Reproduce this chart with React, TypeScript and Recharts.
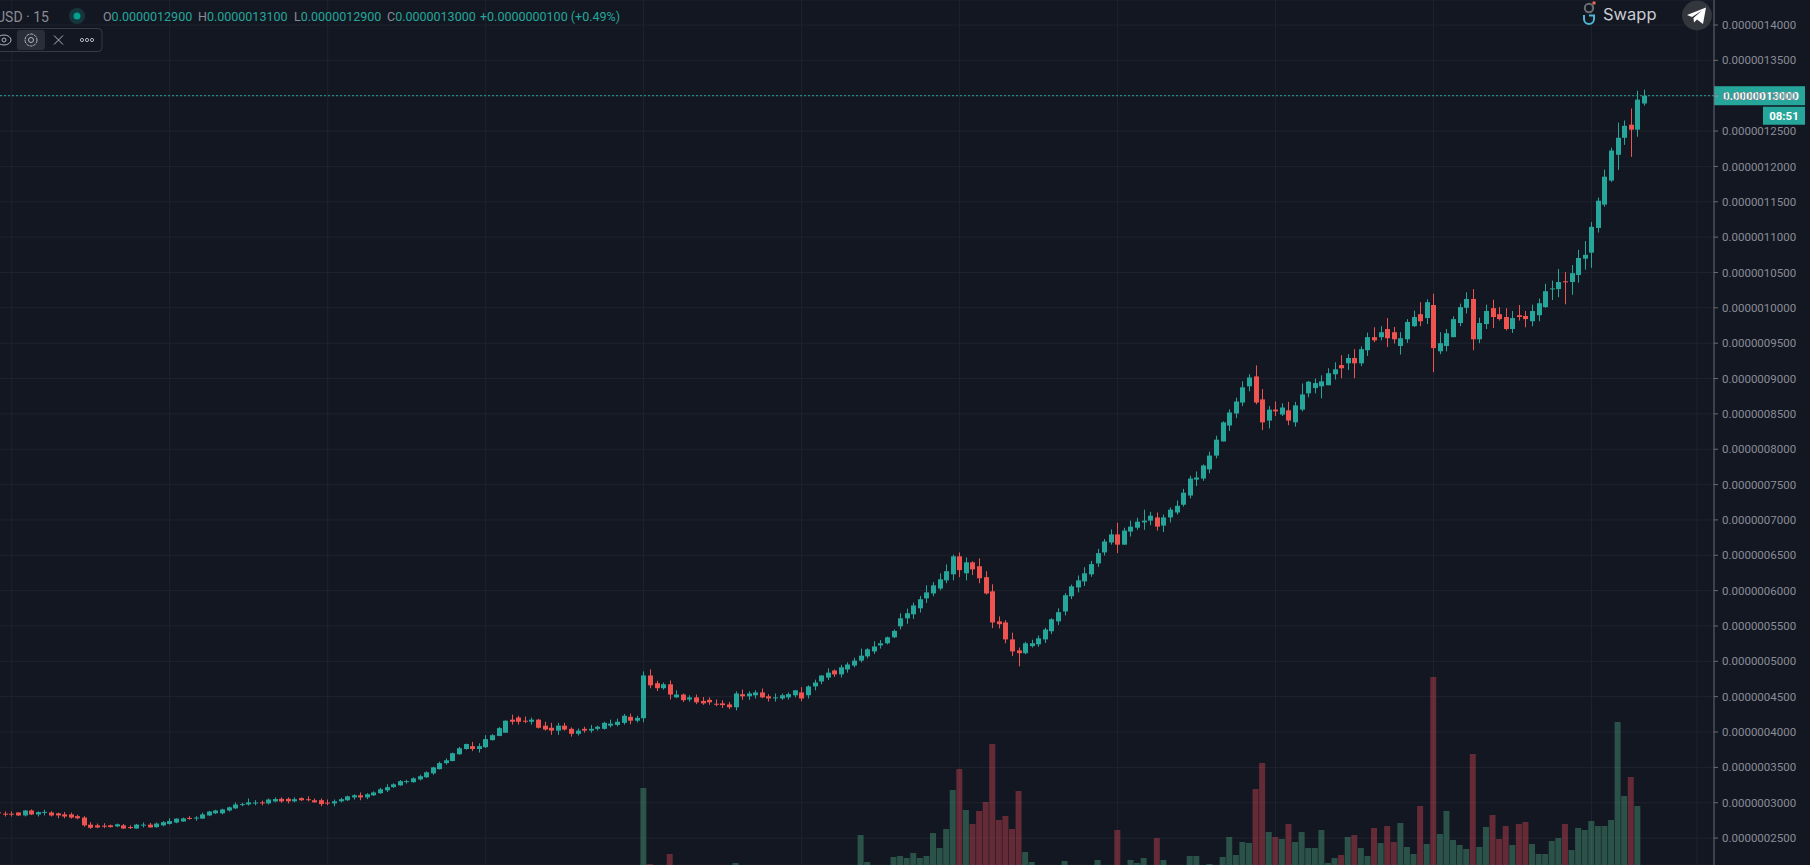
import React from "react";
import { ComposedChart, Bar, XAxis, YAxis, CartesianGrid, ReferenceLine } from "recharts";

// Prices are in units of 0.0000000001. Each row is [open, high, low, close].
type Ohlc = [number, number, number, number];

const sessionA: Ohlc[] = [ // candles -2 to 23
  [2865,2875,2840,2850],[2845,2877,2805,2840],[2845,2877,2805,2840],[2862,2865,2810,2820],[2820,2895,2806,2890],[2890,2905,2825,2834],
  [2834,2877,2805,2867],[2865,2900,2820,2870],[2862,2880,2805,2820],[2850,2860,2780,2820],[2835,2870,2780,2805],[2835,2860,2775,2790],
  [2810,2830,2765,2780],[2790,2810,2660,2680],[2690,2725,2630,2645],[2680,2705,2640,2650],[2675,2710,2640,2665],[2680,2690,2650,2655],
  [2665,2705,2655,2695],[2680,2700,2630,2635],[2655,2680,2630,2650],[2635,2700,2632,2690],[2685,2720,2650,2690],[2690,2715,2650,2650],
  [2655,2720,2645,2705],[2680,2740,2665,2725],
];
const sessionB: Ohlc[] = [ // candles 24 to 47
  [2700,2780,2690,2740],[2720,2780,2710,2775],[2735,2790,2730,2778],[2785,2810,2760,2780],[2780,2810,2745,2790],[2775,2860,2770,2835],
  [2820,2885,2810,2875],[2850,2900,2840,2890],[2850,2915,2835,2905],[2890,2945,2875,2935],[2920,3005,2910,2975],[2975,3000,2950,2980],
  [2975,3060,2960,3005],[2998,3035,2965,3003],[3005,3030,2965,2995],[2990,3060,2975,3045],[3018,3075,3005,3052],[3055,3075,3000,3018],
  [3055,3075,2990,3020],[3020,3075,3005,3050],[3065,3075,3025,3035],[3050,3090,3020,3045],[3035,3060,3000,3005],[3035,3060,2950,2980],
];
const sessionC: Ohlc[] = [ // candles 48 to 71
  [3002,3045,2965,2998],[2990,3045,2950,3020],[3020,3070,3005,3050],[3035,3100,3025,3090],[3075,3120,3045,3105],[3105,3145,3035,3075],
  [3075,3135,3050,3120],[3105,3160,3095,3145],[3135,3210,3125,3190],[3175,3260,3150,3220],[3220,3275,3210,3260],[3245,3320,3240,3305],
  [3300,3325,3270,3305],[3290,3360,3285,3345],[3330,3395,3315,3375],[3360,3445,3350,3430],[3415,3510,3395,3500],[3475,3580,3470,3560],
  [3560,3625,3540,3600],[3590,3710,3585,3700],[3685,3790,3680,3770],[3760,3835,3750,3830],[3800,3860,3730,3760],[3760,3840,3710,3800],
];
const sessionD: Ohlc[] = [ // candles 72 to 95
  [3785,3955,3775,3900],[3885,3970,3880,3955],[3945,4070,3940,4055],[3990,4165,3985,4160],[4175,4246,4105,4145],[4205,4230,4105,4145],
  [4160,4220,4125,4155],[4145,4205,4105,4175],[4175,4185,4050,4060],[4090,4145,4020,4035],[4060,4130,3960,4020],[4020,4130,3960,4090],
  [4090,4130,4020,4035],[4045,4065,3935,3975],[3975,4050,3950,4020],[4045,4075,3990,4020],[4020,4100,3990,4045],[4045,4090,4020,4075],
  [4045,4145,4035,4130],[4090,4175,4065,4118],[4100,4190,4080,4145],[4130,4255,4105,4230],[4215,4260,4110,4160],[4160,4230,4135,4200],
];
const sessionE: Ohlc[] = [ // candles 96 to 119
  [4195,4857,4138,4800],[4800,4885,4620,4660],[4690,4725,4580,4620],[4620,4700,4600,4675],[4675,4730,4460,4530],[4490,4590,4480,4530],
  [4530,4545,4425,4450],[4460,4520,4430,4490],[4490,4530,4395,4420],[4440,4495,4385,4405],[4455,4490,4385,4420],[4400,4460,4365,4395],
  [4405,4450,4340,4380],[4390,4425,4325,4350],[4350,4575,4305,4545],[4535,4600,4455,4505],[4505,4575,4455,4545],[4520,4590,4475,4560],
  [4560,4615,4480,4490],[4505,4535,4430,4475],[4485,4545,4430,4490],[4475,4545,4455,4520],[4490,4560,4460,4535],[4520,4590,4490,4590],
];
const sessionF: Ohlc[] = [ // candles 120 to 143
  [4560,4635,4435,4475],[4520,4660,4475,4645],[4645,4740,4590,4700],[4715,4800,4675,4800],[4770,4900,4735,4840],[4870,4885,4780,4815],
  [4815,4950,4770,4915],[4885,4985,4840,4955],[4940,5050,4915,5010],[5010,5180,4985,5080],[5070,5185,5040,5170],[5140,5285,5105,5210],
  [5225,5300,5180,5255],[5255,5350,5240,5340],[5340,5450,5330,5430],[5495,5680,5452,5608],[5608,5745,5530,5680],[5665,5830,5600,5790],
  [5750,5925,5690,5878],[5890,6075,5825,5975],[5960,6120,5920,6075],[6030,6245,6005,6160],[6145,6370,6105,6275],[6230,6510,6145,6485],
];
const sessionG: Ohlc[] = [ // candles 144 to 167
  [6485,6540,6190,6290],[6245,6470,6145,6400],[6400,6415,6220,6300],[6345,6455,6105,6175],[6190,6275,5945,5960],[5990,6090,5470,5550],
  [5565,5635,5465,5525],[5550,5585,5255,5310],[5310,5405,5075,5140],[5155,5195,4928,5115],[5115,5275,5100,5255],[5215,5305,5195,5255],
  [5240,5365,5205,5325],[5310,5475,5260,5450],[5425,5610,5385,5595],[5565,5750,5515,5695],[5705,5965,5650,5935],[5920,6085,5880,6060],
  [6045,6215,5975,6145],[6130,6330,6065,6245],[6230,6420,6195,6375],[6385,6590,6335,6530],[6540,6730,6495,6695],[6680,6865,6650,6795],
];
const sessionH: Ohlc[] = [ // candles 168 to 191
  [6795,6960,6530,6650],[6650,6890,6650,6850],[6835,6990,6765,6905],[6890,7030,6860,6975],[6965,7145,6860,6990],[6990,7115,6925,7060],
  [7035,7105,6850,6905],[6920,7075,6830,7035],[7035,7175,6965,7145],[7105,7275,7075,7200],[7215,7440,7190,7385],[7345,7625,7305,7585],
  [7570,7685,7480,7600],[7585,7785,7555,7770],[7715,7965,7660,7910],[7910,8190,7870,8135],[8110,8395,8110,8380],[8335,8565,8260,8520],
  [8505,8730,8440,8675],[8660,8960,8610,8875],[8890,9060,8820,9015],[9030,9185,8635,8660],[8705,8850,8270,8380],[8405,8610,8295,8560],
];
const sessionI: Ohlc[] = [ // candles 192 to 215
  [8560,8675,8470,8535],[8490,8650,8470,8590],[8550,8670,8340,8405],[8380,8670,8320,8620],[8560,8930,8535,8775],[8790,8965,8735,8955],
  [8865,9000,8790,8935],[8890,9045,8720,8960],[8905,9145,8905,9075],[9060,9230,8985,9130],[9190,9330,9005,9145],[9215,9345,9120,9290],
  [9290,9415,9005,9215],[9215,9455,9175,9415],[9400,9650,9320,9585],[9585,9725,9515,9540],[9585,9740,9540,9655],[9700,9855,9445,9570],
  [9655,9730,9495,9555],[9460,9655,9340,9570],[9555,9840,9505,9800],[9740,9960,9730,9870],[9910,10080,9740,9810],[9855,10120,9770,10080],
];
const sessionJ: Ohlc[] = [ // candles 216 to 239
  [10040,10200,9090,9430],[9385,9655,9345,9500],[9460,9700,9385,9640],[9585,9880,9585,9840],[9785,10060,9740,10010],[10000,10220,9920,10125],
  [10125,10265,9400,9555],[9555,9860,9500,9785],[9770,10045,9700,9955],[9995,10115,9715,9870],[9910,10010,9820,9840],[9870,9995,9680,9700],
  [9700,9955,9645,9855],[9895,10040,9820,9870],[9885,9955,9725,9840],[9810,10045,9740,9955],[9895,10130,9810,10065],[10010,10340,10000,10235],
  [10265,10385,10110,10275],[10265,10550,10150,10365],[10375,10505,10050,10360],[10365,10605,10185,10490],[10465,10820,10355,10705],[10695,10945,10540,10750],
];
const sessionK: Ohlc[] = [ // candles 240 to 248
  [10780,11215,10565,11145],[11130,11560,11065,11515],[11460,11955,11430,11855],[11800,12265,11780,12225],[12165,12620,11950,12405],
  [12405,12650,12305,12575],[12590,12820,12135,12520],[12520,13070,12420,12945],[12890,13085,12860,13000],
];

const firstCandleIndex = -2;

// [candle index, volume in arbitrary units]; candles not listed show no visible volume
const volumeReadings: [number, number][] = [
  [96,77],[97,1],[100,11],[110,2],[129,30],[130,3],[134,8],[135,9],[136,7],[137,12],[138,7],[139,9],[140,32],[141,17],[142,36],[143,75],
  [144,96],[145,55],[146,41],[147,54],[148,63],[149,121],[150,45],[151,49],[152,36],[153,74],[154,13],[155,3],[160,4],[165,5],[168,35],
  [170,5],[171,2],[172,7],[174,27],[175,5],[179,9],[180,9],[182,1],[184,8],[185,28],[186,10],[187,23],[188,22],[189,76],[190,102],[191,33],
  [192,28],[193,26],[194,41],[195,23],[196,33],[197,17],[198,17],[199,35],[200,2],[201,7],[202,10],[203,28],[204,30],[205,17],[206,9],
  [207,37],[208,22],[209,39],[210,23],[211,42],[212,18],[213,11],[214,59],[215,21],[216,188],[217,31],[218,54],[219,25],[220,20],[221,16],
  [222,111],[223,18],[224,38],[225,50],[226,26],[227,39],[228,20],[229,41],[230,43],[231,21],[232,11],[233,11],[234,24],[235,27],[236,41],
  [237,15],[238,37],[239,35],[240,44],[241,39],[242,39],[243,45],[244,143],[245,69],[246,88],[247,59],
];

const priceTicks = [2500,3000,3500,4000,4500,5000,5500,6000,6500,7000,7500,8000,8500,9000,9500,10000,10500,11000,11500,12000,12500,13000,13500,14000];
const timeTicks = [0,24,48,72,96,120,144,168,192,216,240,256];
const lastPrice = 13000;
const countdown = "08:51";
const headerValues = [
  { left: 103, label: "O", value: "0.0000012900" },
  { left: 198, label: "H", value: "0.0000013100" },
  { left: 294, label: "L", value: "0.0000012900" },
  { left: 387, label: "C", value: "0.0000013000" },
];
const headerChange = "+0.0000000100 (+0.49%)";

const BG = "#131722";
const GRID = "#1f232e";
const UP = "#26a69a";
const DOWN = "#ef5350";
const AXIS_TEXT = "#8a8d96";
const FONT = "Roboto, sans-serif";
const TIME_DOMAIN: [number, number] = [-1.78, 258.6];

const volumeByIndex = new Map(volumeReadings);
const rows = [sessionA, sessionB, sessionC, sessionD, sessionE, sessionF, sessionG, sessionH, sessionI, sessionJ, sessionK].flat();
const data = rows.map(([open, high, low, close], n) => {
  const t = firstCandleIndex + n;
  return { t, open, high, low, close, range: [low, high], volume: volumeByIndex.get(t) ?? 0 };
});

const formatPrice = (v: number) => (v / 1e10).toFixed(10);

// Vertical grid lines sit at the time ticks, on the plot's own width, behind every series.
const verticalGrid = ({ offset }: any) =>
  timeTicks.map((t) => offset.left + ((t - TIME_DOMAIN[0]) / (TIME_DOMAIN[1] - TIME_DOMAIN[0])) * offset.width);

function CandleShape(props: any) {
  const { x, y, width, height, payload } = props;
  const { open, high, low, close } = payload;
  const k = height / Math.max(high - low, 1);
  const top = y + (high - Math.max(open, close)) * k;
  const bodyH = Math.max(Math.abs(open - close) * k, 1);
  const cx = Math.round(x + width / 2 - 0.5);
  const color = close >= open ? UP : DOWN;
  return (
    <g>
      <rect x={cx} y={y} width={1} height={height} fill={color} />
      <rect x={cx - 2} y={top} width={5} height={bodyH} fill={color} />
    </g>
  );
}

function VolumeShape(props: any) {
  const { x, y, width, height, payload } = props;
  if (!height) return null;
  const up = payload.close >= payload.open;
  return <rect x={x} y={y} width={width} height={height} fill={up ? "#55bf92" : "#fd505e"} fillOpacity={0.35} />;
}

function LastPriceLabel(props: any) {
  const y = props.viewBox.y;
  const x = 1714;
  return (
    <g fontFamily={FONT}>
      <rect x={x} y={y - 9.5} width={91} height={19} fill={UP} />
      <rect x={x} y={y - 0.5} width={4} height={1} fill="#ffffff" />
      <text x={x + 9} y={y + 4.5} fontSize={11.5} fontWeight={700} fill="#ffffff">{formatPrice(lastPrice)}</text>
      <rect x={1763} y={y + 11} width={42} height={18} fill={UP} />
      <text x={1784} y={y + 24} fontSize={11.5} fontWeight={700} fill="#ffffff" textAnchor="middle">{countdown}</text>
    </g>
  );
}

const Abs = ({ left, top, children, style }: any) => (
  <div style={{ position: "absolute", left, top, whiteSpace: "nowrap", lineHeight: "16px", ...style }}>{children}</div>
);

function Overlay() {
  return (
    <div style={{ position: "absolute", inset: 0, fontFamily: FONT, pointerEvents: "none" }}>
      <Abs left={-4} top={9} style={{ fontSize: 14, color: AXIS_TEXT }}>USD · 15</Abs>
      <svg style={{ position: "absolute", left: 0, top: 0 }} width={110} height={70}>
        <circle cx={77} cy={16} r={8} fill={UP} fillOpacity={0.22} />
        <circle cx={77} cy={16} r={3.5} fill="#00a08f" />
        <rect x={-6} y={28.5} width={108} height={23} rx={4} fill={BG} stroke="#363a45" />
        <rect x={17} y={30} width={28} height={20} rx={3} fill="#2a2e39" />
        {/* eye */}
        <ellipse cx={4} cy={40} rx={7} ry={5} fill="none" stroke="#b2b5be" />
        <circle cx={4} cy={40} r={2} fill="none" stroke="#b2b5be" />
        {/* gear */}
        <circle cx={31} cy={40} r={6} fill="none" stroke="#b2b5be" strokeDasharray="3 0.8" />
        <circle cx={31} cy={40} r={2.5} fill="none" stroke="#b2b5be" />
        {/* close */}
        <path d="M54 35.5 L63 44.5 M63 35.5 L54 44.5" stroke="#b2b5be" />
        {/* more */}
        <circle cx={82} cy={40} r={1.6} fill="none" stroke="#b2b5be" />
        <circle cx={87} cy={40} r={1.6} fill="none" stroke="#b2b5be" />
        <circle cx={92} cy={40} r={1.6} fill="none" stroke="#b2b5be" />
      </svg>
      {headerValues.map((h) => (
        <Abs key={h.label} left={h.left} top={9} style={{ fontSize: 12.5, color: UP }}>
          <span style={{ color: AXIS_TEXT }}>{h.label}</span>{h.value}
        </Abs>
      ))}
      <Abs left={480} top={9} style={{ fontSize: 12.5, color: UP }}>{headerChange}</Abs>
      {/* Swapp logo */}
      <svg style={{ position: "absolute", left: 1580, top: 0 }} width={22} height={28}>
        <circle cx={9} cy={8} r={4.2} fill="none" stroke="#6b6e74" strokeWidth={2} />
        <rect x={12.5} y={1.5} width={3} height={3} fill="#e8704a" />
        <path d="M4 15 L4 19 A5 5 0 0 0 14 19 L14 15.5 L9 15.5" fill="none" stroke="#4db6d6" strokeWidth={2} />
      </svg>
      <Abs left={1603} top={4} style={{ fontSize: 16.5, lineHeight: "20px", color: "#c9ccd2", fontFamily: "Inter, sans-serif" }}>Swapp</Abs>
      {/* Telegram button */}
      <svg style={{ position: "absolute", left: 1680, top: 0 }} width={34} height={32}>
        <circle cx={17} cy={15.5} r={15} fill="#33363c" />
        <path d="M7 15 L26 7.5 L23 24 L17 19.5 L14 22.5 L13.5 18 L22 10.5 L12 17 Z" fill="#ffffff" />
      </svg>
    </div>
  );
}

export default function App() {
  return (
    <div style={{ position: "absolute", left: 0, top: 0, width: 1810, height: 865, overflow: "hidden", background: BG }}>
      <ComposedChart
        width={1810}
        height={865}
        data={data}
        margin={{ top: 0, right: 0, bottom: 0, left: 0 }}
        barGap={0}
        style={{ background: BG }}
      >
        <CartesianGrid yAxisId="price" xAxisId="time" stroke={GRID} strokeWidth={1} verticalCoordinatesGenerator={verticalGrid} />
        <XAxis
          xAxisId="time"
          type="number"
          dataKey="t"
          domain={TIME_DOMAIN}
          allowDataOverflow
          ticks={timeTicks}
          interval={0}
          height={0}
          tick={false}
          tickLine={false}
          axisLine={false}
        />
        <XAxis
          xAxisId="timeVol"
          type="number"
          dataKey="t"
          domain={TIME_DOMAIN}
          allowDataOverflow
          ticks={timeTicks}
          interval={0}
          height={0}
          hide
        />
        <YAxis
          yAxisId="price"
          orientation="right"
          domain={[2119, 14354]}
          allowDataOverflow
          ticks={priceTicks}
          interval={0}
          width={96}
          tickFormatter={formatPrice}
          tick={{ fill: AXIS_TEXT, fontSize: 11.5, fontFamily: FONT, textAnchor: "start" }}
          tickLine={{ stroke: "#6a6d78" }}
          tickSize={4}
          tickMargin={4}
          axisLine={{ stroke: "#6a6d78" }}
        />
        <YAxis yAxisId="vol" hide domain={[0, 865]} allowDataOverflow />
        <Bar xAxisId="timeVol" yAxisId="vol" dataKey="volume" barSize={6} shape={<VolumeShape />} isAnimationActive={false} />
        <ReferenceLine xAxisId="time" yAxisId="price" y={lastPrice} stroke={UP} strokeDasharray="2 2" label={<LastPriceLabel />} />
        <Bar xAxisId="time" yAxisId="price" dataKey="range" barSize={5} shape={<CandleShape />} isAnimationActive={false} />
      </ComposedChart>
      <Overlay />
    </div>
  );
}
